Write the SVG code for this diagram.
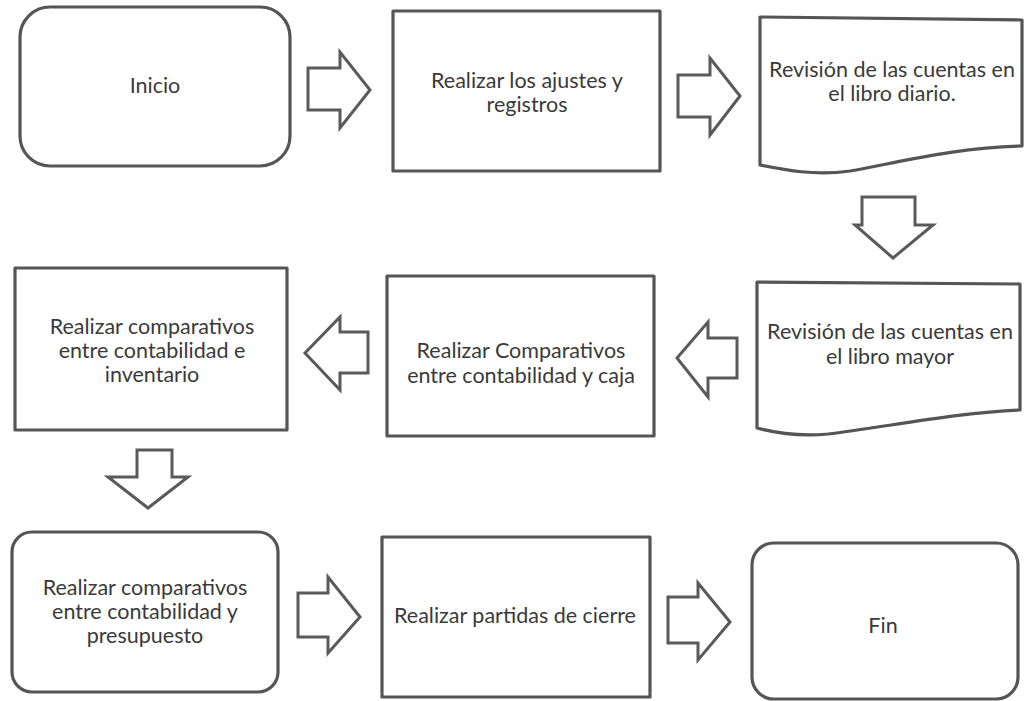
<svg xmlns="http://www.w3.org/2000/svg" width="1024" height="701" viewBox="0 0 1024 701">
<style>
.shape{fill:#ffffff;stroke:#555555;stroke-width:3.2;stroke-linejoin:round}
.arrow{fill:#ffffff;stroke:#5a5a5a;stroke-width:3;stroke-linejoin:miter}
.lbl{font-family:Lato,"Open Sans","Liberation Sans",sans-serif;font-size:21.5px;fill:#3a3a3a;text-anchor:middle}
</style>
<rect width="1024" height="701" fill="#ffffff"/>
<g id="connectors">
<polygon class="arrow" points="308,68 340,68 340,52 370,90 340,128 340,110 308,110"/>
<polygon class="arrow" points="678,75 710,75 710,58 740,96 710,135 710,117 678,117"/>
<polygon class="arrow" points="862,197 915,197 915,225 933,225 893,258 855,225 862,225"/>
<polygon class="arrow" points="737,338 708,338 708,322 677,358 708,397 708,378 737,378"/>
<polygon class="arrow" points="368,332 340,332 340,317 305,353 340,390 340,373 368,373"/>
<polygon class="arrow" points="137,450 172,450 172,477 188,477 148,508 108,477 137,477"/>
<polygon class="arrow" points="298,593 328,593 328,577 360,617 328,653 328,637 298,637"/>
<polygon class="arrow" points="668,597 698,597 698,583 730,622 698,660 698,643 668,643"/>
</g>
<g id="n1">
<rect class="shape" x="20" y="7" width="270" height="159" rx="30" ry="30"/>
<text class="lbl" x="155" y="93">Inicio</text>
</g>
<g id="n2">
<rect class="shape" x="393" y="11" width="267" height="160"/>
<text class="lbl" x="527" y="88">Realizar los ajustes y</text>
<text class="lbl" x="527" y="112">registros</text>
</g>
<g id="n3">
<path class="shape" d="M760,17 L1022,20 L1022,146 C960,147 900,162 850,171 C815,176 785,170 760,165 Z"/>
<text class="lbl" x="892" y="77">Revisión de las cuentas en</text>
<text class="lbl" x="892" y="101">el libro diario.</text>
</g>
<g id="n4">
<path class="shape" d="M757,282 L1020,284 L1020,410 C960,412 880,428 828,434 C795,437 772,432 757,428 Z"/>
<text class="lbl" x="890" y="339">Revisión de las cuentas en</text>
<text class="lbl" x="890" y="364">el libro mayor</text>
</g>
<g id="n5">
<rect class="shape" x="387" y="276" width="267" height="160"/>
<text class="lbl" x="521" y="358">Realizar Comparativos</text>
<text class="lbl" x="521" y="383">entre contabilidad y caja</text>
</g>
<g id="n6">
<rect class="shape" x="15" y="268" width="272" height="162"/>
<text class="lbl" x="152" y="334">Realizar comparativos</text>
<text class="lbl" x="152" y="358">entre contabilidad e</text>
<text class="lbl" x="152" y="382">inventario</text>
</g>
<g id="n7">
<rect class="shape" x="12" y="532" width="266" height="160" rx="20" ry="20"/>
<text class="lbl" x="145" y="595">Realizar comparativos</text>
<text class="lbl" x="145" y="619">entre contabilidad y</text>
<text class="lbl" x="145" y="643">presupuesto</text>
</g>
<g id="n8">
<rect class="shape" x="382" y="537" width="268" height="160"/>
<text class="lbl" x="515" y="623">Realizar partidas de cierre</text>
</g>
<g id="n9">
<rect class="shape" x="752" y="543" width="266" height="156" rx="22" ry="22"/>
<text class="lbl" x="883" y="633">Fin</text>
</g>
</svg>
